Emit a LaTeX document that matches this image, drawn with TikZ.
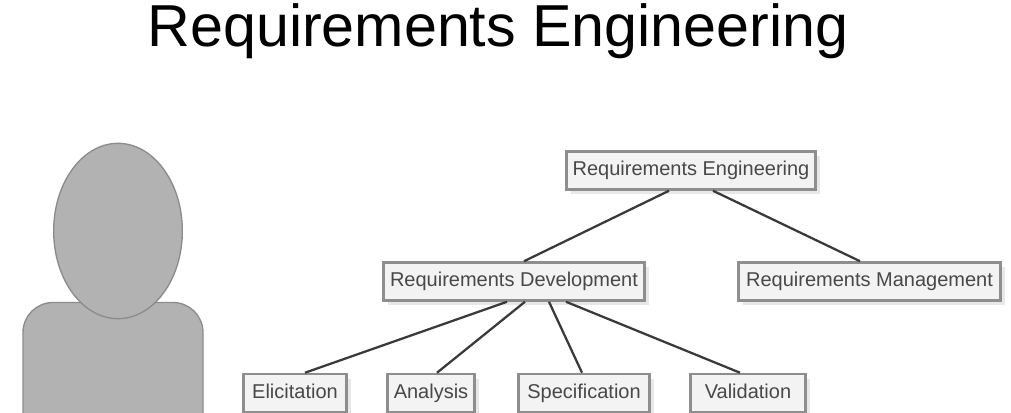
\documentclass[tikz,border=0pt]{standalone}
\usepackage{fontspec}
\setmainfont{Liberation Sans}
\usetikzlibrary{calc,shapes.geometric,shadows}
\definecolor{boxfill}{HTML}{F3F3F3}
\definecolor{boxline}{HTML}{8E8E8E}
\definecolor{boxshadow}{HTML}{E8E8E8}
\definecolor{boxtext}{HTML}{484848}
\definecolor{linkc}{HTML}{3A3A3A}
\definecolor{personfill}{HTML}{B2B2B2}
\definecolor{personline}{HTML}{8C8C8C}
\tikzset{
  x=0.75pt,y=-0.75pt,
  personpart/.style={fill=personfill,draw=personline,line width=1pt},
  reqbox/.style={rectangle,fill=boxfill,draw=boxline,line width=1.9pt,text=boxtext,
    font=\fontsize{15}{18}\selectfont,inner sep=0pt,minimum height=28.5pt,
    text height=10.9pt,text depth=3.1pt,
    general shadow={shadow xshift=3.5pt,shadow yshift=-3.5pt,fill=boxshadow}},
  link/.style={draw=linkc,line width=1.7pt},
}
\begin{document}
\begin{tikzpicture}
\useasboundingbox (0,0) rectangle (1011,413);
\fill[white] (0,0) rectangle (1011,413);
\node[inner sep=0pt,font=\fontsize{44.4}{54}\selectfont,text=black,anchor=base] (title) at (498,47) {Requirements Engineering};
% person
\begin{scope}
\clip (0,0) rectangle (1011,413);
\draw[personpart] (23,430) -- (23,332.5) arc[start angle=180,end angle=90,radius=22.5pt] -- (173,302.5) arc[start angle=90,end angle=0,radius=22.5pt] -- (203,430);
\end{scope}
\node[personpart,shape=ellipse,minimum width=96.5pt,minimum height=131.5pt,inner sep=0pt] (head) at (118,231) {};
% boxes
\node[reqbox,minimum width=187pt] (re) at (691,170.5) {Requirements Engineering};
\node[reqbox,minimum width=196pt] (rd) at (514,281.5) {Requirements Development};
\node[reqbox,minimum width=196.75pt] (rm) at (869.5,281.5) {Requirements Management};
\node[reqbox,minimum width=77.5pt] (el) at (295,393) {Elicitation};
\node[reqbox,minimum width=65.5pt] (an) at (431,393) {Analysis};
\node[reqbox,minimum width=98.5pt] (sp) at (584,393) {Specification};
\node[reqbox,minimum width=86.5pt] (va) at (748,393) {Validation};
% connectors
\draw[link] ($(re.south)+(-22,0)$) -- ($(rd.north)+(10,0)$);
\draw[link] ($(re.south)+(22,0)$) -- ($(rm.north)+(-9.5,0)$);
\draw[link] ($(rd.south)+(-7,0)$) -- ($(el.north)+(10,0)$);
\draw[link] ($(rd.south)+(11,0)$) -- ($(an.north)+(6,0)$);
\draw[link] ($(rd.south)+(35,0)$) -- ($(sp.north)+(-2,0)$);
\draw[link] ($(rd.south)+(52,0)$) -- ($(va.north)+(-8,0)$);
\end{tikzpicture}
\end{document}
